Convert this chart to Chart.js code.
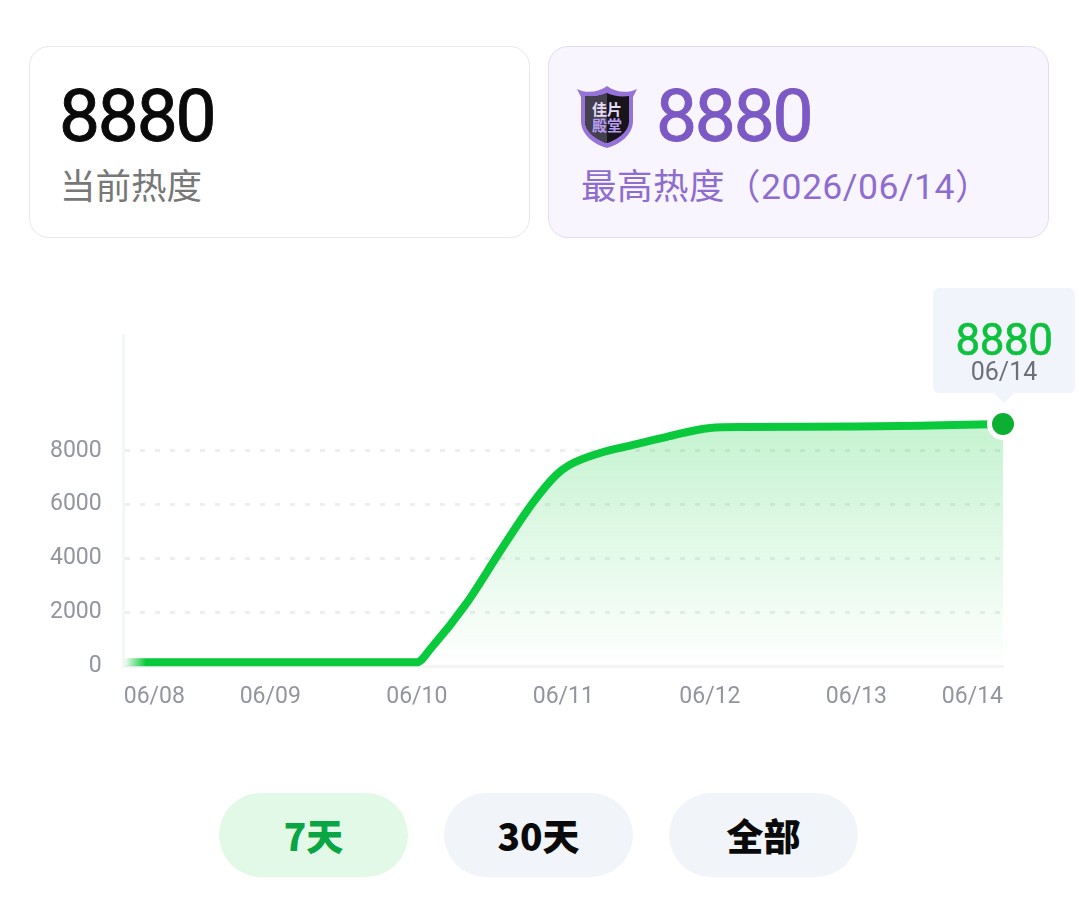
<!DOCTYPE html>
<html>
<head>
<meta charset="utf-8">
<script src="https://cdn.jsdelivr.net/npm/chart.js@4"></script>
<style>
  html, body { margin: 0; padding: 0; background: #fff; }
  body { width: 1079px; height: 922px; position: relative; overflow: hidden;
    font-family: Roboto, "Noto Sans CJK SC", sans-serif; }
  .card { position: absolute; top: 46px; height: 190px; border-radius: 20px; box-sizing: content-box; }
  .card.now { left: 29px; width: 499px; border: 1px solid #e6e8ec; background: #fff; }
  .card.best { left: 548px; width: 499px; border: 1px solid #e3dcef; background: #f8f5fe; }
  .num { position: absolute; top: 26px; font-size: 73px; line-height: 86px; font-weight: 400; letter-spacing: -2.2px; -webkit-text-stroke: 0.9px currentColor; }
  .now .num { left: 29px; color: #0a0a0a; }
  .best .num { left: 107px; color: #7c59c4; }
  .sub { position: absolute; top: 115px; font-size: 35.5px; line-height: 50px; font-weight: 400; }
  .now .sub { left: 30px; color: #787878; }
  .best .sub { left: 32px; color: #8e6dcf; letter-spacing: 0.5px; }
  .shield { position: absolute; left: 25px; top: 38px; }
  #wrap { position: absolute; left: 0; top: 270px; width: 1079px; height: 450px; }
  #tip { position: absolute; width: 142px; height: 105px; background: #f1f4fa; border-radius: 6px; text-align: center; }
  #tip:after { content: ""; position: absolute; left: 61px; bottom: -10px; border-left: 10px solid transparent;
    border-right: 10px solid transparent; border-top: 10px solid #f1f4fa; }
  #tip .v { position: absolute; left: 0; right: 0; top: 27px; font-size: 44px; line-height: 50px; font-weight: 400; color: #0dc13c; letter-spacing: -0.5px; -webkit-text-stroke: 0.6px currentColor; }
  #tip .d { position: absolute; left: 0; right: 0; top: 69px; font-size: 25px; line-height: 30px; color: #6d7079; }
  .btn { position: absolute; top: 793px; width: 189px; height: 84px; border-radius: 42px; background: #f1f4f9;
    font-size: 37px; line-height: 84px; font-weight: 900; text-align: center; color: #0a0a0a;
    font-family: "Noto Sans CJK SC", sans-serif; }
  .btn.on { background: #e1f9e6; color: #0aa544; }
</style>
</head>
<body>
<div class="card now">
  <div class="num" id="curNum"></div>
  <div class="sub">当前热度</div>
</div>
<div class="card best">
  <svg class="shield" width="66" height="66" viewBox="0 0 64 66">
    <path d="M2 4 C12 9 24 7 32 1 C40 7 52 9 62 4 L58 12 L58 36 C58 50 44 60 32 63 C20 60 6 50 6 36 L6 12 Z" fill="#9673d8"/>
    <path d="M10 11 C18 12 26 11 32 8 C38 11 46 12 54 11 L54 36 C54 47 42 55 32 58 C22 55 10 47 10 36 Z" fill="#17141c"/>
    <path d="M32 8 L32 58 C22 55 10 47 10 36 L10 11 C18 12 26 11 32 8 Z" fill="#45404d"/>
    <text x="32" y="30" text-anchor="middle" font-size="15" font-weight="700" fill="#e4dcf5" font-family="Noto Sans CJK SC">佳片</text>
    <text x="32" y="46" text-anchor="middle" font-size="15" font-weight="700" fill="#b79df0" font-family="Noto Sans CJK SC">殿堂</text>
  </svg>
  <div class="num" id="bestNum"></div>
  <div class="sub" id="bestSub"></div>
</div>
<div id="wrap">
  <canvas id="chart" width="1079" height="450"></canvas>
  <div id="tip"><div class="v" id="tipVal"></div><div class="d" id="tipDay"></div></div>
</div>
<div class="btn on" style="left:219px">7天</div>
<div class="btn" style="left:444px">30天</div>
<div class="btn" style="left:669px">全部</div>

<script>
const days = ['06/08', '06/09', '06/10', '06/11', '06/12', '06/13', '06/14'];
const dayPos = [0, 1, 2, 2.1, 2.34, 2.56, 2.79, 2.95, 3.04, 3.25, 3.47, 3.7, 4, 4.24, 5, 5.5, 6];
const heat = [150, 150, 150, 700, 2350, 4200, 6060, 7100, 7470, 7920, 8215, 8510, 8850, 8885, 8900, 8940, 8995];
const yTicks = [0, 2000, 4000, 6000, 8000];
const yMax = 12300;
const currentHeat = 8880;
const bestDate = '2026/06/14';

document.getElementById('curNum').textContent = currentHeat;
document.getElementById('bestNum').textContent = currentHeat;
document.getElementById('bestSub').textContent = `最高热度（${bestDate}）`;
document.getElementById('tipVal').textContent = currentHeat;
document.getElementById('tipDay').textContent = days[days.length - 1];

function fillGradient(ctx) {
  const { chart } = ctx;
  const { chartArea, ctx: c, scales } = chart;
  if (!chartArea) return 'rgba(13,200,60,0.2)';
  const g = c.createLinearGradient(0, scales.y.getPixelForValue(heat[heat.length - 1]), 0, chartArea.bottom);
  g.addColorStop(0, 'rgba(13,205,60,0.24)');
  g.addColorStop(1, 'rgba(13,205,60,0)');
  return g;
}

function lineGradient(ctx) {
  const { chartArea, ctx: c } = ctx.chart;
  if (!chartArea) return '#0bc93c';
  const g = c.createLinearGradient(chartArea.left, 0, chartArea.left + 22, 0);
  g.addColorStop(0, 'rgba(11,201,60,0)');
  g.addColorStop(1, '#0bc93c');
  return g;
}

// keeps the html tooltip sitting above the last point
const tipPlugin = {
  id: 'tipPlugin',
  afterDraw(chart) {
    const pts = chart.getDatasetMeta(0).data;
    const pt = pts[pts.length - 1];
    const tip = document.getElementById('tip');
    tip.style.left = (pt.x - 70) + 'px';
    tip.style.top = (pt.y - 136) + 'px';
  },
};

new Chart(document.getElementById('chart'), {
  type: 'line',
  data: {
    datasets: [{
      data: dayPos.map((x, i) => ({ x, y: heat[i] })),
      borderColor: lineGradient,
      backgroundColor: fillGradient,
      borderWidth: 8,
      fill: 'origin',
      cubicInterpolationMode: 'monotone',
      borderCapStyle: 'butt',
      pointRadius: dayPos.map((d, i) => (i === dayPos.length - 1 ? 13.5 : 0)),
      pointBackgroundColor: '#0bb033',
      pointBorderColor: '#ffffff',
      pointBorderWidth: 5,
      clip: false,
    }],
  },
  plugins: [tipPlugin],
  options: {
    responsive: false,
    animation: false,
    layout: { padding: { left: 28, right: 76, top: 65, bottom: 0 } },
    plugins: { legend: { display: false }, tooltip: { enabled: false } },
    scales: {
      x: {
        type: 'linear',
        min: 0,
        max: days.length - 1,
        afterBuildTicks(scale) { scale.ticks = days.map((d, i) => ({ value: i })); },
        grid: { display: false },
        border: { display: true, color: '#f3f4f6', width: 3 },
        ticks: {
          align: 'inner', maxRotation: 0, autoSkip: false, padding: 9,
          color: '#93959f', font: { family: 'Roboto', size: 23 },
          callback: v => days[v],
        },
      },
      y: {
        min: 0,
        max: yMax,
        afterBuildTicks(scale) { scale.ticks = yTicks.map(v => ({ value: v })); },
        grid: {
          color: ctx => (ctx.tick.value === 0 ? 'transparent' : '#eceef0'),
          lineWidth: 3, drawTicks: false, tickLength: 0,
        },
        border: { display: true, color: '#f5f6f7', width: 3, dash: [5, 10] },
        ticks: {
          padding: 22, color: '#93959f', font: { family: 'Roboto', size: 23 },
          callback: v => String(v),
        },
      },
    },
  },
});
</script>
</body>
</html>
